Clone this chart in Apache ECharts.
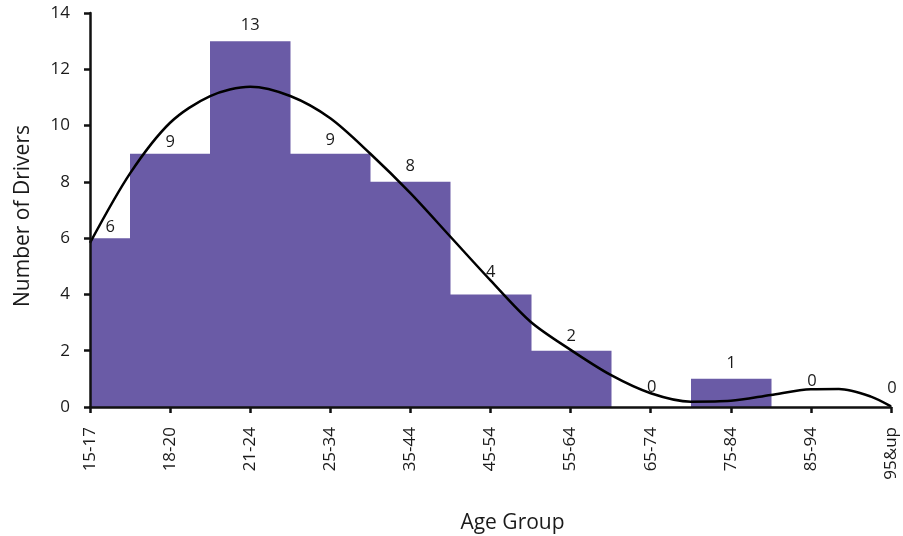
<!DOCTYPE html>
<html><head><meta charset="utf-8">
<script src="https://cdn.jsdelivr.net/npm/echarts@6/dist/echarts.min.js"></script>
<style>html,body{margin:0;padding:0;background:#fff}#c{width:903px;height:536px}</style>
</head><body><div id="c"></div>
<script>
const categories = ['15-17','18-20','21-24','25-34','35-44','45-54','55-64','65-74','75-84','85-94','95&up'];
const drivers = [6, 9, 13, 9, 8, 4, 2, 0, 1, 0, 0];
const yTicks = [0, 2, 4, 6, 8, 10, 12, 14];
// trend curve: [category position, value]
const trendPos = [0, 0.5, 1, 1.5, 2, 2.5, 3, 3.5, 4, 4.5, 5, 5.5, 6, 6.5, 7, 7.5, 8, 8.5, 9, 9.35, 9.75, 10];
const trendVal = [5.83, 8.3, 10.1, 11.05, 11.38, 11.05, 10.26, 9.0, 7.6, 6.05, 4.5, 3.03, 2.03, 1.14, 0.49, 0.19, 0.22, 0.43, 0.63, 0.64, 0.37, 0.02];

const labelLift = [11, 11, 16, 13, 15.5, 22, 14.5, 20, 16, 26, 19];
const font = '"Open Sans", "Noto Sans", sans-serif';

function renderBar(params, api) {
  const i = api.value(0), v = api.value(1);
  const p0 = api.coord([i - 0.5, v]);
  const p1 = api.coord([i + 0.5, 0]);
  const pc = api.coord([i, v]);
  const cs = params.coordSys;
  const x0 = Math.round(p0[0]), x1 = Math.round(p1[0]);
  const rect = echarts.graphic.clipRectByRect(
    {x: x0, y: p0[1], width: x1 - x0 + 0.5, height: p1[1] - p0[1]},
    {x: cs.x, y: cs.y, width: cs.width, height: cs.height + 1});
  const cx = (rect && v > 0) ? rect.x + rect.width / 2 : pc[0] + 1;
  const children = [];
  if (rect && v > 0) {
    children.push({type: 'rect', shape: rect, style: {fill: '#6a5ba6'}});
  }
  children.push({type: 'text', x: cx, y: p0[1] - labelLift[params.dataIndex],
    style: {text: String(v), font: '16.5px ' + font, fill: '#1a1a1a', align: 'center', verticalAlign: 'middle'}});
  return {type: 'group', children: children};
}

const chart = echarts.init(document.getElementById('c'), null, {renderer: 'canvas'});
chart.setOption({
  animation: false,
  grid: {left: 90, right: 12, top: 13, bottom: 129, containLabel: false, outerBoundsMode: 'none'},
  xAxis: [{
    type: 'category', data: categories, boundaryGap: false, z: 5,
    name: 'Age Group', nameLocation: 'middle', nameGap: 106,
    nameTextStyle: {fontFamily: font, fontSize: 21, color: '#1a1a1a', padding: [0, 0, 0, 44]},
    axisLine: {lineStyle: {color: '#111', width: 2.5}},
    axisTick: {show: true, length: 6, lineStyle: {color: '#111', width: 2.5}},
    axisLabel: {rotate: 90, fontFamily: font, fontSize: 17, color: '#1a1a1a', margin: 20, interval: 0},
    splitLine: {show: false}
  }, {
    type: 'value', min: 0, max: 10, show: false
  }],
  yAxis: {
    type: 'value', min: yTicks[0], max: yTicks[yTicks.length - 1], interval: 2, z: 5,
    name: 'Number of Drivers', nameLocation: 'middle', nameGap: 56,
    nameTextStyle: {fontFamily: font, fontSize: 21, color: '#1a1a1a', padding: [0, 12, 0, 0]},
    axisLine: {show: true, lineStyle: {color: '#111', width: 2.5}},
    axisTick: {show: true, length: 6, lineStyle: {color: '#111', width: 2.5}},
    axisLabel: {fontFamily: font, fontSize: 17, color: '#1a1a1a', margin: 20},
    splitLine: {show: false}
  },
  series: [{
    type: 'custom', xAxisIndex: 1, renderItem: renderBar, clip: false,
    encode: {x: 0, y: 1},
    data: drivers.map((v, i) => [i, v]),
    z: 1
  }, {
    type: 'line', xAxisIndex: 1, smooth: 0.3, symbol: 'none',
    lineStyle: {color: '#000', width: 2.5},
    data: trendPos.map((p, i) => [p, trendVal[i]]),
    z: 3
  }]
});
</script></body></html>
